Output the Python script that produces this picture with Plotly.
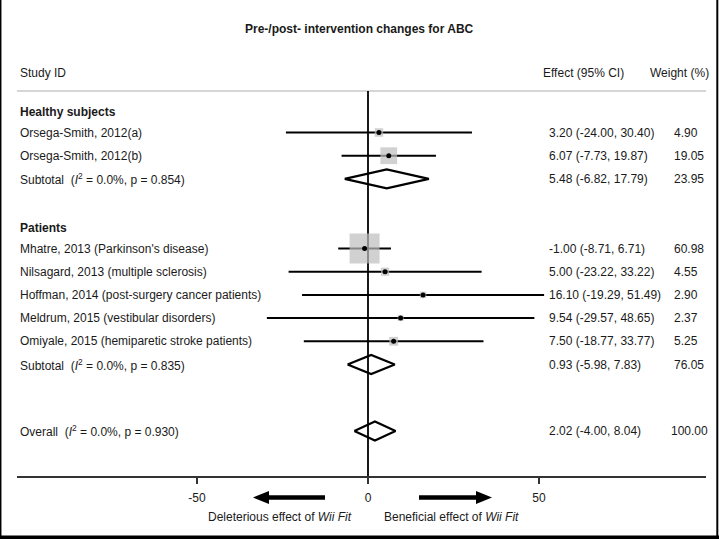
import plotly.graph_objects as go
import math

# ---------------- data ----------------
study_labels = [
    "Orsega-Smith, 2012(a)",
    "Orsega-Smith, 2012(b)",
    "Mhatre, 2013 (Parkinson's disease)",
    "Nilsagard, 2013 (multiple sclerosis)",
    "Hoffman, 2014 (post-surgery cancer patients)",
    "Meldrum, 2015 (vestibular disorders)",
    "Omiyale, 2015 (hemiparetic stroke patients)",
]
study_group = [0, 0, 1, 1, 1, 1, 1]
study_effect = [3.20, 6.07, -1.00, 5.00, 16.10, 9.54, 7.50]
study_lower = [-24.00, -7.73, -8.71, -23.22, -19.29, -29.57, -18.77]
study_upper = [30.40, 19.87, 6.71, 33.22, 51.49, 48.65, 33.77]
study_weight = [4.90, 19.05, 60.98, 4.55, 2.90, 2.37, 5.25]

group_names = ["Healthy subjects", "Patients"]
sub_effect = [5.48, 0.93]
sub_lower = [-6.82, -5.98]
sub_upper = [17.79, 7.83]
sub_weight = [23.95, 76.05]
sub_i2 = [0.0, 0.0]
sub_p = [0.854, 0.835]

overall_effect = 2.02
overall_lower = -4.00
overall_upper = 8.04
overall_weight = 100.00
overall_i2 = 0.0
overall_p = 0.930

tick_values = [-50, 0, 50]
tick_labels = ["-50", "0", "50"]

title_text = "Pre-/post- intervention changes for ABC"
arrow_left_text = "Deleterious effect of <i>Wii Fit</i>"
arrow_right_text = "Beneficial effect of <i>Wii Fit</i>"

# ---------------- layout constants ----------------
W, H = 719, 539
X0PX = 368.0       # pixel of effect 0
PXU = 3.42         # pixels per effect unit
AX_Y = 477.0       # pixel y of x-axis line
Y_FIRST = 132.5
ROW = 23.2
FONT = "Arial, 'Liberation Sans', Helvetica, sans-serif"
TXT = "#1a1a1a"


def px2x(px):
    return (px - X0PX) / PXU


def rowy(i):
    return Y_FIRST + ROW * i


LABEL_X = px2x(18)
EFFECT_X = px2x(547)
WEIGHT_X = px2x(672)

# row assignment
rows = []  # (kind, index, y)
r = -1
for g in range(len(group_names)):
    rows.append(("head", g, rowy(r) + 3))
    r += 1
    for s in range(len(study_labels)):
        if study_group[s] == g:
            rows.append(("study", s, rowy(r)))
            r += 1
    rows.append(("sub", g, rowy(r)))
    r += 2
overall_y = rowy(r + 0.87)

fig = go.Figure()
ann = []


def text(x, y, s, bold=False, anchor="left", size=12):
    ann.append(dict(x=x, y=y, xref="x", yref="y", text=f"<b>{s}</b>" if bold else s,
                    showarrow=False, xanchor=anchor, yanchor="middle",
                    font=dict(family=FONT, size=size, color=TXT)))


def fmt(e, l, u):
    return f"{e:.2f} ({l:.2f}, {u:.2f})"


ci_x, ci_y = [], []
sq_x, sq_y, sq_s = [], [], []
dia_x, dia_y = [], []
HALF_H = 9.5

for kind, idx, y in rows:
    if kind == "head":
        text(LABEL_X, y, group_names[idx], bold=True)
    elif kind == "study":
        text(LABEL_X, y, study_labels[idx])
        text(EFFECT_X, y, fmt(study_effect[idx], study_lower[idx], study_upper[idx]))
        text(WEIGHT_X, y, f"{study_weight[idx]:.2f}")
        ci_x += [study_lower[idx], study_upper[idx], None]
        ci_y += [y, y, None]
        sq_x.append(study_effect[idx])
        sq_y.append(y)
        sq_s.append(3.84 * math.sqrt(study_weight[idx]))
    elif kind == "sub":
        text(LABEL_X, y, f"Subtotal  (<i>I</i><sup>2</sup> = {sub_i2[idx]:.1f}%, p = {sub_p[idx]:.3f})")
        text(EFFECT_X, y, fmt(sub_effect[idx], sub_lower[idx], sub_upper[idx]))
        text(WEIGHT_X, y, f"{sub_weight[idx]:.2f}")
        dia_x += [sub_lower[idx], sub_effect[idx], sub_upper[idx], sub_effect[idx], sub_lower[idx], None]
        dia_y += [y, y - HALF_H, y, y + HALF_H, y, None]

text(LABEL_X, overall_y, f"Overall  (<i>I</i><sup>2</sup> = {overall_i2:.1f}%, p = {overall_p:.3f})")
text(EFFECT_X, overall_y, fmt(overall_effect, overall_lower, overall_upper))
text(px2x(669), overall_y, f"{overall_weight:.2f}")
dia_x += [overall_lower, overall_effect, overall_upper, overall_effect, overall_lower, None]
dia_y += [overall_y, overall_y - HALF_H, overall_y, overall_y + HALF_H, overall_y, None]

# headers
text(px2x(W / 2), 29, title_text, bold=True, anchor="center")
text(LABEL_X, 73, "Study ID")
text(px2x(541), 73, "Effect (95% CI)")
text(px2x(648), 73, "Weight (%)")

# arrow texts
text(px2x(280), 517, arrow_left_text, anchor="center")
text(px2x(451), 517, arrow_right_text, anchor="center")

fig.add_trace(go.Scatter(x=ci_x, y=ci_y, mode="lines", line=dict(color="black", width=2),
                         hoverinfo="skip", showlegend=False))
fig.add_trace(go.Scatter(x=sq_x, y=sq_y, mode="markers",
                         marker=dict(symbol="square", size=sq_s, color="#bdbdbd", line=dict(width=0)),
                         showlegend=False))
fig.add_trace(go.Scatter(x=sq_x, y=sq_y, mode="markers",
                         marker=dict(symbol="circle", size=5, color="black"), showlegend=False))
fig.add_trace(go.Scatter(x=dia_x, y=dia_y, mode="lines", line=dict(color="black", width=2.2),
                         hoverinfo="skip", showlegend=False))

shapes = []
# separator under header
shapes.append(dict(type="line", xref="x", yref="y", x0=px2x(17), x1=px2x(706), y0=91, y1=91,
                   line=dict(color="#c8c8c8", width=1.5), layer="below"))
# null line
shapes.append(dict(type="line", xref="x", yref="y", x0=0, x1=0, y0=91, y1=AX_Y,
                   line=dict(color="black", width=1.8), layer="below"))
# arrows
AY = 497.5
shapes.append(dict(type="line", xref="x", yref="y", x0=px2x(325), x1=px2x(266), y0=AY, y1=AY,
                   line=dict(color="black", width=4.5)))
shapes.append(dict(type="path", xref="x", yref="y",
                   path=f"M {px2x(253)},{AY} L {px2x(269)},{AY-6.5} L {px2x(269)},{AY+6.5} Z",
                   fillcolor="black", line=dict(width=0)))
shapes.append(dict(type="line", xref="x", yref="y", x0=px2x(419), x1=px2x(478), y0=AY, y1=AY,
                   line=dict(color="black", width=4.5)))
shapes.append(dict(type="path", xref="x", yref="y",
                   path=f"M {px2x(492)},{AY} L {px2x(476)},{AY-6.5} L {px2x(476)},{AY+6.5} Z",
                   fillcolor="black", line=dict(width=0)))
# frame (left, right, bottom)
shapes.append(dict(type="line", xref="paper", yref="paper", x0=0.7 / W, x1=0.7 / W, y0=0, y1=1,
                   line=dict(color="black", width=1.5)))
shapes.append(dict(type="line", xref="paper", yref="paper", x0=717.3 / W, x1=717.3 / W, y0=0, y1=1,
                   line=dict(color="black", width=2)))
shapes.append(dict(type="line", xref="paper", yref="paper", x0=0, x1=1, y0=1.8 / H, y1=1.8 / H,
                   line=dict(color="black", width=3.5)))

fig.update_layout(
    width=W, height=H,
    margin=dict(l=0, r=0, t=0, b=0),
    paper_bgcolor="white", plot_bgcolor="white",
    showlegend=False,
    annotations=ann, shapes=shapes,
    xaxis=dict(domain=[17 / W, 706 / W], range=[px2x(17), px2x(706)],
               anchor="free", position=(H - AX_Y) / H,
               showgrid=False, zeroline=False, showline=True, linecolor="#333", linewidth=2,
               ticks="outside", ticklen=6, tickwidth=1.5, tickcolor="#333",
               tickvals=tick_values, ticktext=tick_labels, ticklabelstandoff=4,
               tickfont=dict(family=FONT, size=12, color=TXT)),
    yaxis=dict(domain=[0, 1], range=[H, 0], visible=False, showgrid=False, zeroline=False),
)

fig.write_html("out.html", config={"displayModeBar": False},
               post_script="document.body.style.margin='0';document.body.style.overflow='hidden';")
